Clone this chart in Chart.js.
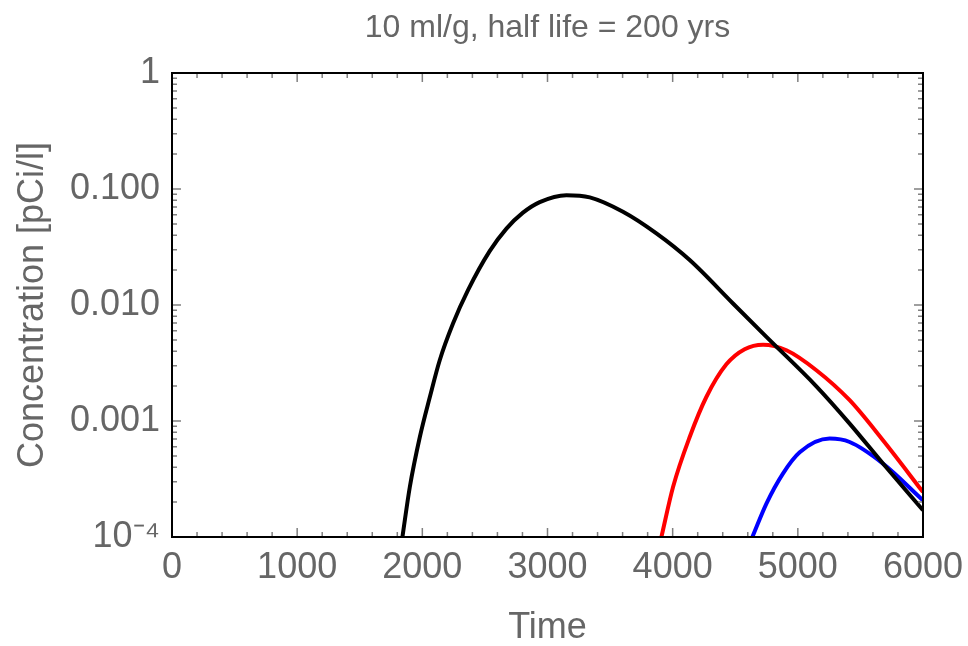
<!DOCTYPE html>
<html>
<head>
<meta charset="utf-8">
<script src="https://cdn.jsdelivr.net/npm/chart.js@4.4.1/dist/chart.umd.min.js"></script>
<style>
  html, body { margin: 0; padding: 0; background: #fff; }
  #wrap { width: 968px; height: 646px; }
</style>
</head>
<body>
<div id="wrap"><canvas id="chart"></canvas></div>
<script>
// values
const blackTime = [1841, 1900, 1980, 2060, 2139, 2245, 2365, 2538, 2672, 2804, 2938, 3151, 3338, 3603, 3870, 4136, 4482, 4749, 5148, 5414, 5680, 6000];
const blackConc = [1.0e-4, 2.70e-4, 7.28e-4, 1.61e-3, 3.34e-3, 6.92e-3, 0.01342, 0.0291, 0.0455, 0.0625, 0.0771, 0.0885, 0.0846, 0.0636, 0.0414, 0.0244, 0.0103, 5.31e-3, 1.99e-3, 9.5e-4, 4.30e-4, 1.70e-4];

const redTime = [3910, 4003, 4136, 4269, 4429, 4575, 4722, 4909, 5148, 5414, 5680, 6000];
const redConc = [1.0e-4, 2.70e-4, 7.28e-4, 1.61e-3, 3.08e-3, 4.16e-3, 4.55e-3, 4.07e-3, 2.74e-3, 1.51e-3, 6.82e-4, 2.44e-4];

const blueTime = [4637, 4749, 4881, 5015, 5254, 5414, 5680, 6000];
const blueConc = [1.0e-4, 1.94e-4, 3.52e-4, 5.37e-4, 7.05e-4, 6.59e-4, 4.29e-4, 2.07e-4];

const xTickValues = [0, 1000, 2000, 3000, 4000, 5000, 6000];
const yTickValues = [1e-4, 1e-3, 1e-2, 1e-1, 1];
const yTickLabels = ['10\u207B\u2074', '0.001', '0.010', '0.100', '1'];

const textColor = '#666666';
const fontFamily = '"Liberation Sans", Arial, sans-serif';

function toPoints(xs, ys) {
  return xs.map((x, i) => ({ x: x, y: ys[i] }));
}

// frame + inward ticks like the reference
const frameTicks = {
  id: 'frameTicks',
  afterDraw(chart) {
    const { ctx, chartArea: a, scales } = chart;
    const xs = scales.x, ys = scales.y;
    ctx.save();
    ctx.strokeStyle = '#808080';
    ctx.lineWidth = 1.5;
    ctx.beginPath();
    for (let v = 0; v <= 6000; v += 200) {
      const px = xs.getPixelForValue(v);
      const len = v % 1000 === 0 ? 9 : 5;
      ctx.moveTo(px, a.bottom); ctx.lineTo(px, a.bottom - len);
      ctx.moveTo(px, a.top); ctx.lineTo(px, a.top + len);
    }
    for (let d = 1e-4; d < 1.5; d *= 10) {
      for (let m = 1; m <= 9; m++) {
        const v = d * m;
        if (v > 1.0001) break;
        const py = ys.getPixelForValue(v);
        const len = m === 1 ? 9 : 5;
        ctx.moveTo(a.left, py); ctx.lineTo(a.left + len, py);
        ctx.moveTo(a.right, py); ctx.lineTo(a.right - len, py);
      }
    }
    ctx.stroke();
    ctx.strokeStyle = '#000';
    ctx.lineWidth = 2;
    ctx.strokeRect(a.left, a.top, a.right - a.left, a.bottom - a.top);
    ctx.restore();
  }
};

new Chart(document.getElementById('chart'), {
  type: 'line',
  data: {
    datasets: [
      { data: toPoints(blackTime, blackConc), borderColor: '#000000', borderWidth: 4, pointRadius: 0, cubicInterpolationMode: 'monotone' },
      { data: toPoints(redTime, redConc), borderColor: '#ff0000', borderWidth: 4, pointRadius: 0, cubicInterpolationMode: 'monotone' },
      { data: toPoints(blueTime, blueConc), borderColor: '#0000ff', borderWidth: 4, pointRadius: 0, cubicInterpolationMode: 'monotone' }
    ]
  },
  options: {
    responsive: true,
    maintainAspectRatio: false,
    animation: false,
    layout: { padding: { left: 0, right: 45, top: 0, bottom: 0 } },
    plugins: {
      legend: { display: false },
      tooltip: { enabled: false },
      title: {
        display: true,
        text: '10 ml/g, half life = 200 yrs',
        color: textColor,
        fullSize: false,
        font: { family: fontFamily, size: 32, weight: 'normal', lineHeight: 1.2 },
        padding: { top: 9, bottom: 25.6 }
      }
    },
    scales: {
      x: {
        type: 'linear',
        min: 0,
        max: 6000,
        afterBuildTicks(scale) { scale.ticks = xTickValues.map(v => ({ value: v })); },
        afterFit(scale) {
          scale.height = 109;
          scale.paddingLeft = 0;
          scale.paddingRight = 0;
        },
        grid: { drawOnChartArea: false, drawTicks: false },
        border: { display: false },
        ticks: {
          color: textColor,
          padding: 9,
          maxRotation: 0,
          font: { family: fontFamily, size: 36 },
          callback(value) { return String(value); }
        },
        title: { display: true, text: 'Time', color: textColor, font: { family: fontFamily, size: 36, lineHeight: 1 }, padding: { top: 0, bottom: 0 } }
      },
      y: {
        type: 'logarithmic',
        min: 1e-4,
        max: 1,
        afterBuildTicks(scale) { scale.ticks = yTickValues.map(v => ({ value: v })); },
        afterFit(scale) { scale.width = 172; },
        grid: { drawOnChartArea: false, drawTicks: false },
        border: { display: false },
        ticks: {
          color: textColor,
          padding: 12,
          font: { family: fontFamily, size: 36 },
          callback(value) {
            const i = yTickValues.findIndex(v => Math.abs(v - value) / v < 1e-6);
            return i >= 0 ? yTickLabels[i] : '';
          }
        },
        title: { display: true, text: 'Concentration [pCi/l]', color: textColor, font: { family: fontFamily, size: 36, lineHeight: 1.2 }, padding: { top: 11, bottom: 0 } }
      }
    }
  },
  plugins: [frameTicks]
});
</script>
</body>
</html>
